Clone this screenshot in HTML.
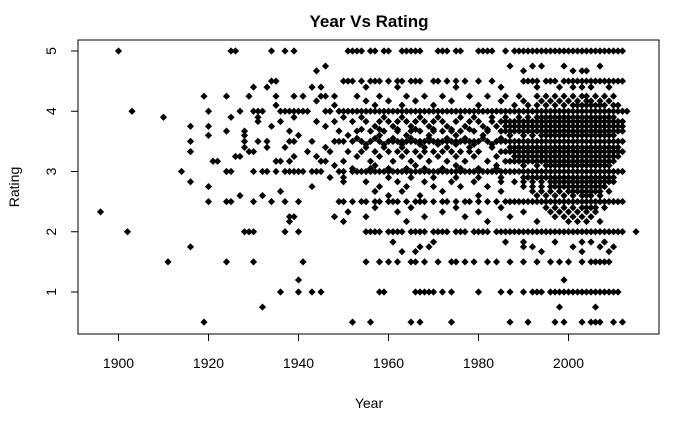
<!DOCTYPE html>
<html><head><meta charset="utf-8"><style>
body{margin:0;background:#fff}
svg text{font-family:"Liberation Sans",Arial,sans-serif;fill:#000}
</style></head><body>
<svg id="chart" width="700" height="432" viewBox="0 0 700 432" xmlns="http://www.w3.org/2000/svg">
<rect width="700" height="432" fill="#fff"/>
<text x="369" y="27" text-anchor="middle" font-size="17" font-weight="bold">Year Vs Rating</text>
<text x="369" y="408" text-anchor="middle" font-size="14">Year</text>
<text x="19" y="187" text-anchor="middle" font-size="14" transform="rotate(-90 19 187)">Rating</text>
<rect x="78" y="40" width="581" height="294" fill="none" stroke="#000" stroke-width="1"/>
<g id="axes"></g>
<g id="points"></g>
</svg>
<script>
const xTicks=[1900,1920,1940,1960,1980,2000];
const yTicks=[1,2,3,4,5];
const levels=[5,4.75,4.67,4.5,4.4,4.25,4.17,4.1,4,3.9,3.83,3.75,3.67,3.6,3.5,3.4,3.33,3.25,3.17,3.1,3,2.9,2.83,2.75,2.67,2.6,2.5,2.4,2.33,2.25,2.17,2,1.83,1.75,1.67,1.5,1.2,1,0.75,0.5,3.55,3.45,3.7,3.05];
const levelYears=[
[1900,1925,1926,1934,1937,1939,1951,1952,1953,1954,1956,1957,1959,1960,1963,1964,1965,1966,1967,1971,1972,1973,1975,1976,1980,1981,1982,1983,1986,1988,1989,1990,1991,1992,1993,1994,1995,1996,1997,1998,1999,2000,2001,2002,2003,2004,2005,2006,2007,2008,2009,2010,2011,2012],
[1946,1987,1992,1994,1999,2007],
[1944,1990,2001,2003,2004],
[1934,1935,1950,1951,1952,1954,1956,1957,1958,1960,1962,1963,1965,1966,1967,1970,1971,1973,1975,1977,1980,1983,1990,1991,1992,1993,1995,1996,1997,1999,2000,2001,2002,2003,2004,2005,2006,2007,2008,2009,2010,2011,2012],
[1930,1933,1943,1945,1955,1962,1975,1985,1993,1998,2001,2003,2005,2009],
[1919,1924,1929,1935,1939,1941,1945,1946,1948,1953,1958,1964,1968,1972,1978,1982,1986,1989,1993,1995,1997,1999,2001,2003,2004,2006,2008,2010],
[1944,1955,1960,1966,1974,1985,1990,1994,1996,1998,2000,2002,2004,2005,2007,2009],
[1935,1948,1957,1963,1970,1980,1988,1991,1993,1995,1997,1999,2001,2002,2003,2004,2005,2006,2007,2008,2010,2011],
[1903,1920,1927,1930,1931,1932,1936,1937,1938,1939,1940,1941,1942,1946,1947,1949,1950,1951,1952,1953,1954,1955,1956,1957,1958,1959,1960,1961,1962,1963,1964,1965,1966,1967,1968,1969,1970,1971,1972,1973,1974,1975,1976,1977,1978,1979,1980,1981,1982,1983,1984,1985,1986,1987,1988,1989,1990,1991,1992,1993,1994,1995,1996,1997,1998,1999,2000,2001,2002,2003,2004,2005,2006,2007,2008,2009,2010,2011,2012,2013],
[1910,1925,1931,1939,1950,1954,1959,1963,1967,1971,1976,1979,1983,1986,1989,1991,1993,1994,1995,1996,1997,1998,1999,2000,2001,2002,2003,2004,2005,2006,2007,2008,2009,2010],
[1931,1936,1944,1948,1952,1955,1958,1960,1962,1964,1966,1968,1970,1972,1975,1978,1980,1983,1985,1986,1987,1988,1989,1990,1991,1992,1993,1994,1995,1996,1997,1998,1999,2000,2001,2002,2003,2004,2005,2006,2007,2008,2009,2010,2011,2012],
[1916,1920,1934,1946,1957,1961,1965,1969,1973,1977,1981,1984,1986,1987,1988,1989,1990,1991,1992,1993,1994,1995,1996,1997,1998,1999,2000,2001,2002,2003,2004,2005,2006,2007,2008,2009,2010,2011,2012],
[1924,1928,1938,1949,1953,1956,1959,1962,1965,1967,1970,1972,1974,1976,1979,1982,1985,1986,1987,1988,1989,1990,1991,1992,1993,1994,1995,1996,1997,1998,1999,2000,2001,2002,2003,2004,2005,2006,2007,2008,2009,2010,2011,2012],
[1920,1928,1940,1951,1958,1964,1969,1975,1981,1987,1990,1992,1994,1995,1996,1997,1998,1999,2000,2001,2002,2003,2004,2005,2006,2007,2008,2009,2010],
[1916,1928,1931,1933,1938,1939,1943,1948,1949,1950,1952,1954,1956,1958,1960,1961,1962,1963,1964,1965,1966,1967,1968,1969,1970,1971,1972,1973,1974,1975,1976,1977,1978,1979,1980,1982,1984,1985,1986,1987,1988,1989,1990,1991,1992,1993,1994,1995,1996,1997,1998,1999,2000,2001,2002,2003,2004,2005,2006,2007,2008,2009,2010,2011,2012],
[1928,1933,1937,1946,1955,1959,1963,1968,1973,1978,1983,1987,1988,1989,1990,1991,1992,1993,1994,1995,1996,1997,1998,1999,2000,2001,2002,2003,2004,2005,2006,2007,2008,2009,2010,2011],
[1916,1929,1930,1942,1947,1951,1954,1957,1960,1962,1964,1966,1968,1970,1972,1974,1976,1978,1980,1985,1986,1987,1988,1989,1990,1991,1992,1993,1994,1995,1996,1997,1998,1999,2000,2001,2002,2003,2004,2005,2006,2007,2008,2009,2010,2011,2012],
[1926,1927,1939,1944,1953,1958,1963,1967,1971,1975,1979,1984,1988,1989,1990,1991,1992,1993,1994,1995,1996,1997,1998,1999,2000,2001,2002,2003,2004,2005,2006,2007,2008,2009,2010,2011],
[1921,1922,1935,1936,1938,1945,1946,1950,1956,1961,1965,1969,1973,1977,1982,1986,1987,1988,1989,1990,1991,1992,1993,1994,1995,1996,1997,1998,1999,2000,2001,2002,2003,2004,2005,2006,2007,2008,2009,2010],
[1948,1957,1966,1975,1984,1990,1993,1995,1996,1997,1998,1999,2000,2001,2002,2003,2004,2005,2006,2007,2008,2009],
[1914,1924,1925,1930,1932,1933,1935,1937,1938,1939,1940,1941,1943,1944,1945,1949,1950,1952,1953,1954,1955,1956,1957,1958,1959,1960,1961,1962,1963,1964,1965,1966,1967,1968,1969,1970,1971,1972,1973,1974,1975,1976,1977,1978,1979,1980,1981,1982,1983,1984,1985,1986,1987,1988,1989,1990,1991,1992,1993,1994,1995,1996,1997,1998,1999,2000,2001,2002,2003,2004,2005,2006,2007,2008,2009,2010,2011,2012],
[1947,1950,1960,1965,1970,1975,1980,1985,1990,1991,1992,1993,1994,1995,1996,1997,1998,1999,2000,2001,2002,2003,2004,2005,2006,2007,2008,2009,2010],
[1916,1950,1955,1962,1968,1974,1979,1985,1988,1990,1992,1994,1996,1997,1998,1999,2000,2001,2002,2003,2004,2005,2006,2007,2008,2009,2010],
[1920,1943,1958,1964,1970,1976,1982,1990,1992,1994,1996,1997,1998,1999,2000,2001,2002,2003,2004,2005,2006,2007,2008],
[1936,1957,1963,1972,1985,1992,1994,1996,1998,2000,2001,2002,2003,2004,2005,2006,2007,2009],
[1927,1932,1960,1967,1980,1993,1995,1997,1999,2001,2003,2004,2005,2007],
[1920,1924,1925,1930,1934,1937,1940,1949,1950,1952,1954,1955,1957,1958,1960,1961,1962,1964,1966,1967,1968,1970,1972,1973,1975,1977,1978,1980,1982,1984,1986,1987,1988,1989,1990,1991,1992,1993,1994,1995,1996,1997,1998,1999,2000,2001,2002,2003,2004,2005,2006,2007,2008,2009,2010,2011,2012],
[1957,1965,1975,1985,1995,1997,1999,2001,2003,2004,2005,2006,2008],
[1896,1951,1962,1972,1980,1990,1996,1998,2000,2002,2004,2006],
[1938,1939,1948,1955,1968,1977,1987,1997,1999,2001,2003,2005],
[1938,1950,1964,1982,1993,2000,2002,2004,2007],
[1902,1928,1929,1930,1937,1940,1955,1956,1957,1958,1960,1961,1962,1963,1965,1966,1967,1968,1970,1971,1972,1973,1975,1976,1977,1979,1980,1981,1982,1984,1985,1986,1987,1988,1989,1990,1991,1992,1993,1994,1995,1996,1997,1998,1999,2000,2001,2002,2003,2004,2005,2006,2007,2008,2009,2010,2011,2012,2015],
[1961,1970,1986,1990,1997,2003,2005,2008],
[1916,1967,1969,1990,1992,2001,2007,2010],
[1963,1966,1994,2003,2009],
[1911,1924,1930,1941,1955,1958,1960,1962,1965,1966,1968,1971,1974,1975,1977,1979,1982,1984,1987,1990,1993,1996,1998,2000,2003,2005,2006,2007,2008,2009],
[1940,1999],
[1936,1940,1943,1945,1958,1959,1966,1967,1968,1969,1970,1972,1974,1980,1985,1987,1990,1992,1993,1994,1996,1997,1998,1999,2000,2001,2002,2003,2004,2005,2006,2007,2008,2009,2010,2011],
[1932,1998,2006],
[1919,1952,1956,1965,1967,1974,1987,1991,1997,1999,2003,2005,2006,2007,2010,2012],
[1953,1957,1961,1965,1969,1973,1977,1981,1985],
[1955,1959,1963,1967,1971,1975,1979,1983],
[1954,1958,1962,1966,1970,1974,1978,1982],
[1952,1956,1960,1964,1968,1972,1976,1980,1984]
];
const X0=1900,XPX0=118.5,XSCALE=4.5;
const YPX5=51,YPX1=292;
function xs(v){return XPX0+(v-X0)*XSCALE;}
function ys(v){return YPX1-(v-1)*(YPX1-YPX5)/4;}
const NS="http://www.w3.org/2000/svg";
const axes=document.getElementById('axes');
function mk(t,a){const e=document.createElementNS(NS,t);for(const k in a)e.setAttribute(k,a[k]);return e;}
let xl=mk('line',{x1:xs(xTicks[0]),x2:xs(xTicks[xTicks.length-1]),y1:334,y2:334,stroke:'#000'});


axes.appendChild(xl);
xTicks.forEach(t=>{
  const l=mk('line',{x1:xs(t),x2:xs(t),y1:334,y2:341,stroke:'#000'});
  
  
  axes.appendChild(l);
  const tx=mk('text',{x:xs(t),y:368,'text-anchor':'middle','font-size':14});
  tx.textContent=t;
  
  
  axes.appendChild(tx);
});
let yl=mk('line',{x1:78,x2:78,y1:ys(yTicks[0]),y2:ys(yTicks[yTicks.length-1]),stroke:'#000'});


axes.appendChild(yl);
yTicks.forEach(t=>{
  const y=ys(t);
  const l=mk('line',{x1:71,x2:78,y1:y,y2:y,stroke:'#000'});
  
  
  axes.appendChild(l);
  const tx=mk('text',{x:56,y:y,'text-anchor':'middle','font-size':14,transform:`rotate(-90 56 ${y})`});
  tx.textContent=t;
  
  
  axes.appendChild(tx);
});
const pts=document.getElementById('points');
levels.forEach((r,i)=>{
  levelYears[i].forEach(yr=>{
    const cx=xs(yr),cy=ys(r),s=3.6;
    const p=mk('polygon',{points:`${cx},${cy-s} ${cx+s},${cy} ${cx},${cy+s} ${cx-s},${cy}`,fill:'#000'});
    
    
    pts.appendChild(p);
  });
});
</script>
</body></html>
